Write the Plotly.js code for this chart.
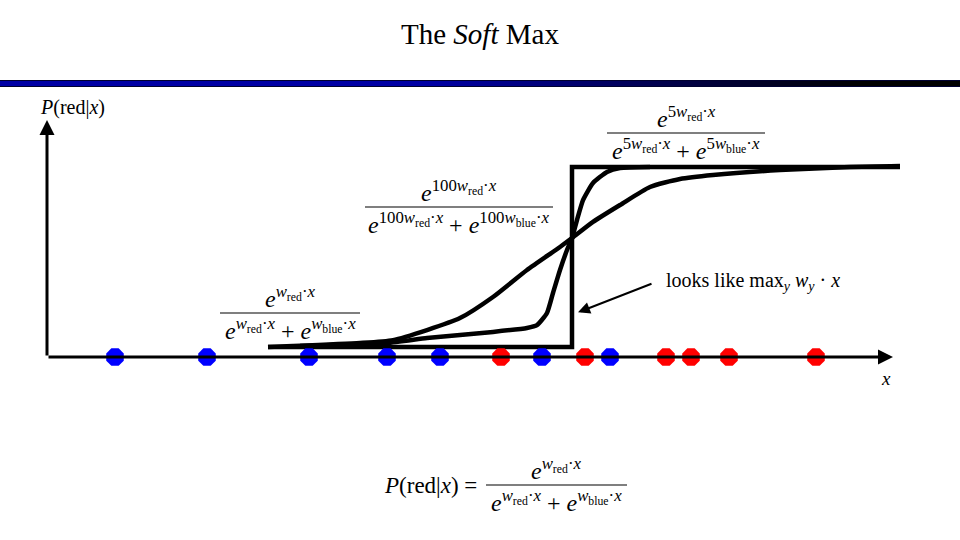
<!DOCTYPE html>
<html><head><meta charset="utf-8">
<script src="https://cdn.plot.ly/plotly-3.0.1.min.js"></script>
<style>html,body{margin:0;padding:0;background:#fff}#c{width:960px;height:540px}</style>
</head><body><div id="c"></div>
<script>
// ---- data ----
const blueX = [-9.14, -7.3, -5.26, -3.7, -2.64, -0.6, 0.76];
const redX = [-1.42, 0.26, 1.88, 2.38, 3.14, 4.88];
const stepX = [-6.08, 0, 0, 6.56];
const stepY = [0.053, 0.053, 1, 1];
const softX = [-6.08, -5.58, -4.24, -3.58, -2.9, -2.24, -1.58, -0.9, -0.24, 0, 0.42, 0.96, 1.56, 2.16, 2.82, 4.16, 5.56, 6.56];
const softY = [0.053, 0.058, 0.074, 0.089, 0.142, 0.205, 0.316, 0.458, 0.579, 0.626, 0.711, 0.8, 0.895, 0.937, 0.958, 0.984, 1.0, 1.005];
const sharpX = [-5.44, -3.7, -2.9, -2.24, -1.58, -0.9, -0.7, -0.5, -0.38, -0.24, -0.1, 0, 0.1, 0.22, 0.42, 0.7, 0.96, 1.56];
const sharpY = [0.058, 0.074, 0.1, 0.116, 0.132, 0.153, 0.168, 0.232, 0.337, 0.458, 0.563, 0.626, 0.721, 0.826, 0.916, 0.974, 0.995, 1.0];
const xAxisEnd = [-10.5, 6.42];
const yAxisTop = 1.247;

// ---- helpers (page pixels -> paper) ----
const W = 960, H = 540;
const PX = p => p / W, PY = p => 1 - p / H;
const MF = 'Liberation Serif';

const traces = [
  {x: stepX, y: stepY, mode: 'lines', line: {color: '#000', width: 4.5}, hoverinfo: 'skip'},
  {x: softX, y: softY, mode: 'lines', line: {color: '#000', width: 4.5, shape: 'spline', smoothing: 0.6}, hoverinfo: 'skip'},
  {x: sharpX, y: sharpY, mode: 'lines', line: {color: '#000', width: 4.5, shape: 'spline', smoothing: 0.5}, hoverinfo: 'skip'},
  {x: blueX, y: blueX.map(() => 0), mode: 'markers', marker: {symbol: 'octagon', size: 19, color: '#0000ff', line: {width: 0}}, hoverinfo: 'skip'},
  {x: redX, y: redX.map(() => 0), mode: 'markers', marker: {symbol: 'octagon', size: 19, color: '#ff0000', line: {width: 0}}, hoverinfo: 'skip'}
];

const shapes = [];
// gradient header bar
const N = 96;
function lerp(a, b, t) { return Math.round(a + (b - a) * t); }
for (let i = 0; i < N; i++) {
  const t = i / (N - 1);
  let k = t < 0.45 ? 0 : Math.min(1, (t - 0.45) / 0.45);
  const c = `rgb(0,0,${lerp(165, 0, k)})`;
  shapes.push({type: 'rect', xref: 'paper', yref: 'paper', x0: PX(i * W / N), x1: PX((i + 1) * W / N + 0.5), y0: PY(86.5), y1: PY(80.5), fillcolor: c, line: {width: 0}, layer: 'below'});
}
shapes.push({type: 'line', xref: 'paper', yref: 'paper', x0: 0, x1: 1, y0: PY(80.5), y1: PY(80.5), line: {color: '#000030', width: 1}});
shapes.push({type: 'line', xref: 'paper', yref: 'paper', x0: 0, x1: 1, y0: PY(86.5), y1: PY(86.5), line: {color: '#000030', width: 1}});

const annotations = [];
function txt(text, x, y, size, xanchor, yanchor, extra) {
  annotations.push(Object.assign({text, xref: 'paper', yref: 'paper', x: PX(x), y: PY(y), showarrow: false,
    xanchor: xanchor || 'center', yanchor: yanchor || 'middle', font: {family: MF, size: size || 17, color: '#000'}}, extra || {}));
}
function frac(cx, ly, x0, x1, num, den, size) {
  shapes.push({type: 'line', xref: 'paper', yref: 'paper', x0: PX(x0), x1: PX(x1), y0: PY(ly), y1: PY(ly), line: {color: '#555', width: 1.3}});
  txt(num, cx, ly + 1, size, 'center', 'bottom');
  txt(den, cx, ly - 1, size, 'center', 'top');
}
const E = (k, who) => `<i>e</i><sup>${k}<i>w</i><sub>${who}</sub>·<i>x</i></sup>`;

txt('The <i>Soft</i> Max', 480, 34, 29);
txt('<i>P</i>(red|<i>x</i>)', 38, 107, 20, 'left', 'middle');
txt('<i>x</i>', 886, 378, 19, 'center', 'middle');

frac(686, 133, 607, 765, E('5', 'red'), E('5', 'red') + ' + ' + E('5', 'blue'), 24);
frac(459, 207, 365, 553, E('100', 'red'), E('100', 'red') + ' + ' + E('100', 'blue'), 24);
frac(290, 313, 220, 360, E('', 'red'), E('', 'red') + ' + ' + E('', 'blue'), 24);
frac(556, 485, 486, 627, E('', 'red'), E('', 'red') + ' + ' + E('', 'blue'), 24);
txt('<i>P</i>(red|<i>x</i>) =', 382, 485, 23, 'left', 'middle');

txt('looks like max<sub><i>y</i></sub> <i>w</i><sub><i>y</i></sub> · <i>x</i>', 664, 281, 20, 'left', 'middle');

// arrows
annotations.push({x: 0.12, y: 0.235, ax: 1.62, ay: 0.389, xref: 'x', yref: 'y', axref: 'x', ayref: 'y', text: '', showarrow: true, arrowhead: 2, arrowsize: 1.2, arrowwidth: 2, arrowcolor: '#000'});
annotations.push({x: xAxisEnd[1], y: 0, ax: xAxisEnd[0], ay: 0, xref: 'x', yref: 'y', axref: 'x', ayref: 'y', text: '', showarrow: true, arrowhead: 2, arrowsize: 1, arrowwidth: 3, arrowcolor: '#000'});
annotations.push({x: xAxisEnd[0], y: yAxisTop, ax: xAxisEnd[0], ay: 0, xref: 'x', yref: 'y', axref: 'x', ayref: 'y', text: '', showarrow: true, arrowhead: 2, arrowsize: 1, arrowwidth: 3, arrowcolor: '#000'});

const layout = {
  width: W, height: H, margin: {l: 0, r: 0, t: 0, b: 0},
  paper_bgcolor: '#fff', plot_bgcolor: '#fff', showlegend: false,
  xaxis: {range: [-11.44, 7.76], visible: false, fixedrange: true},
  yaxis: {range: [-0.963, 1.879], visible: false, fixedrange: true},
  shapes, annotations
};
Plotly.newPlot('c', traces, layout, {staticPlot: true, displayModeBar: false});
</script></body></html>
